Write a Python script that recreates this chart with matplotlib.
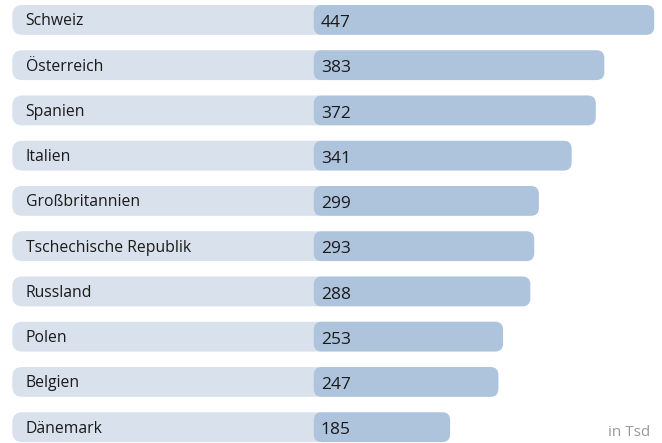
import matplotlib.pyplot as plt
from matplotlib.patches import FancyBboxPatch

# Daten
countries = ['Schweiz', 'Österreich', 'Spanien', 'Italien', 'Großbritannien',
             'Tschechische Republik', 'Russland', 'Polen', 'Belgien', 'Dänemark']
values = [447, 383, 372, 341, 299, 293, 288, 253, 247, 185]
unit_label = 'in Tsd'

plt.rcParams['font.family'] = ['Open Sans', 'DejaVu Sans']

fig = plt.figure(figsize=(6.62, 4.43), dpi=100)
ax = fig.add_axes([0, 0, 1, 1])
ax.set_xlim(-392.8, 457.0)
ax.set_ylim(9.35, -0.44)
ax.axis('off')

# Verhältnis y-Einheit / x-Einheit (Pixel), für runde Ecken
px_x = 662 / (457.0 + 392.8)
px_y = 443 / (9.35 + 0.44)
aspect = (1 / px_y) / (1 / px_x)

label_start = -377
bar_start = 10
h = 0.66

for i, (name, v) in enumerate(zip(countries, values)):
    # helle Namensleiste
    r = 10 / px_x
    lab = FancyBboxPatch((label_start + r, i - h / 2 + r * aspect),
                         bar_start + 20 - label_start - 2 * r, h - 2 * r * aspect,
                         boxstyle=f'round,pad={r},rounding_size={r}',
                         mutation_aspect=aspect, fc='#d9e2ec', ec='none', zorder=1)
    ax.add_patch(lab)
    # Wertbalken
    r2 = 8 / px_x
    bar = FancyBboxPatch((bar_start + r2, i - h / 2 + r2 * aspect),
                         v - bar_start - 2 * r2, h - 2 * r2 * aspect,
                         boxstyle=f'round,pad={r2},rounding_size={r2}',
                         mutation_aspect=aspect, fc='#aec3dc', ec='none', zorder=2)
    ax.add_patch(bar)
    ax.text(label_start + 17, i + 0.03, name, va='center', ha='left',
            fontsize=11.3, color='#1a1a1a', zorder=3)
    ax.text(bar_start + 9, i + 0.07, str(v), va='center', ha='left',
            fontsize=12.5, color='#1a1a1a', zorder=3)

ax.text(441.6, 9.2, unit_label, ha='right', va='baseline', fontsize=11, color='#999999')

fig.savefig('out.png', dpi=100)
